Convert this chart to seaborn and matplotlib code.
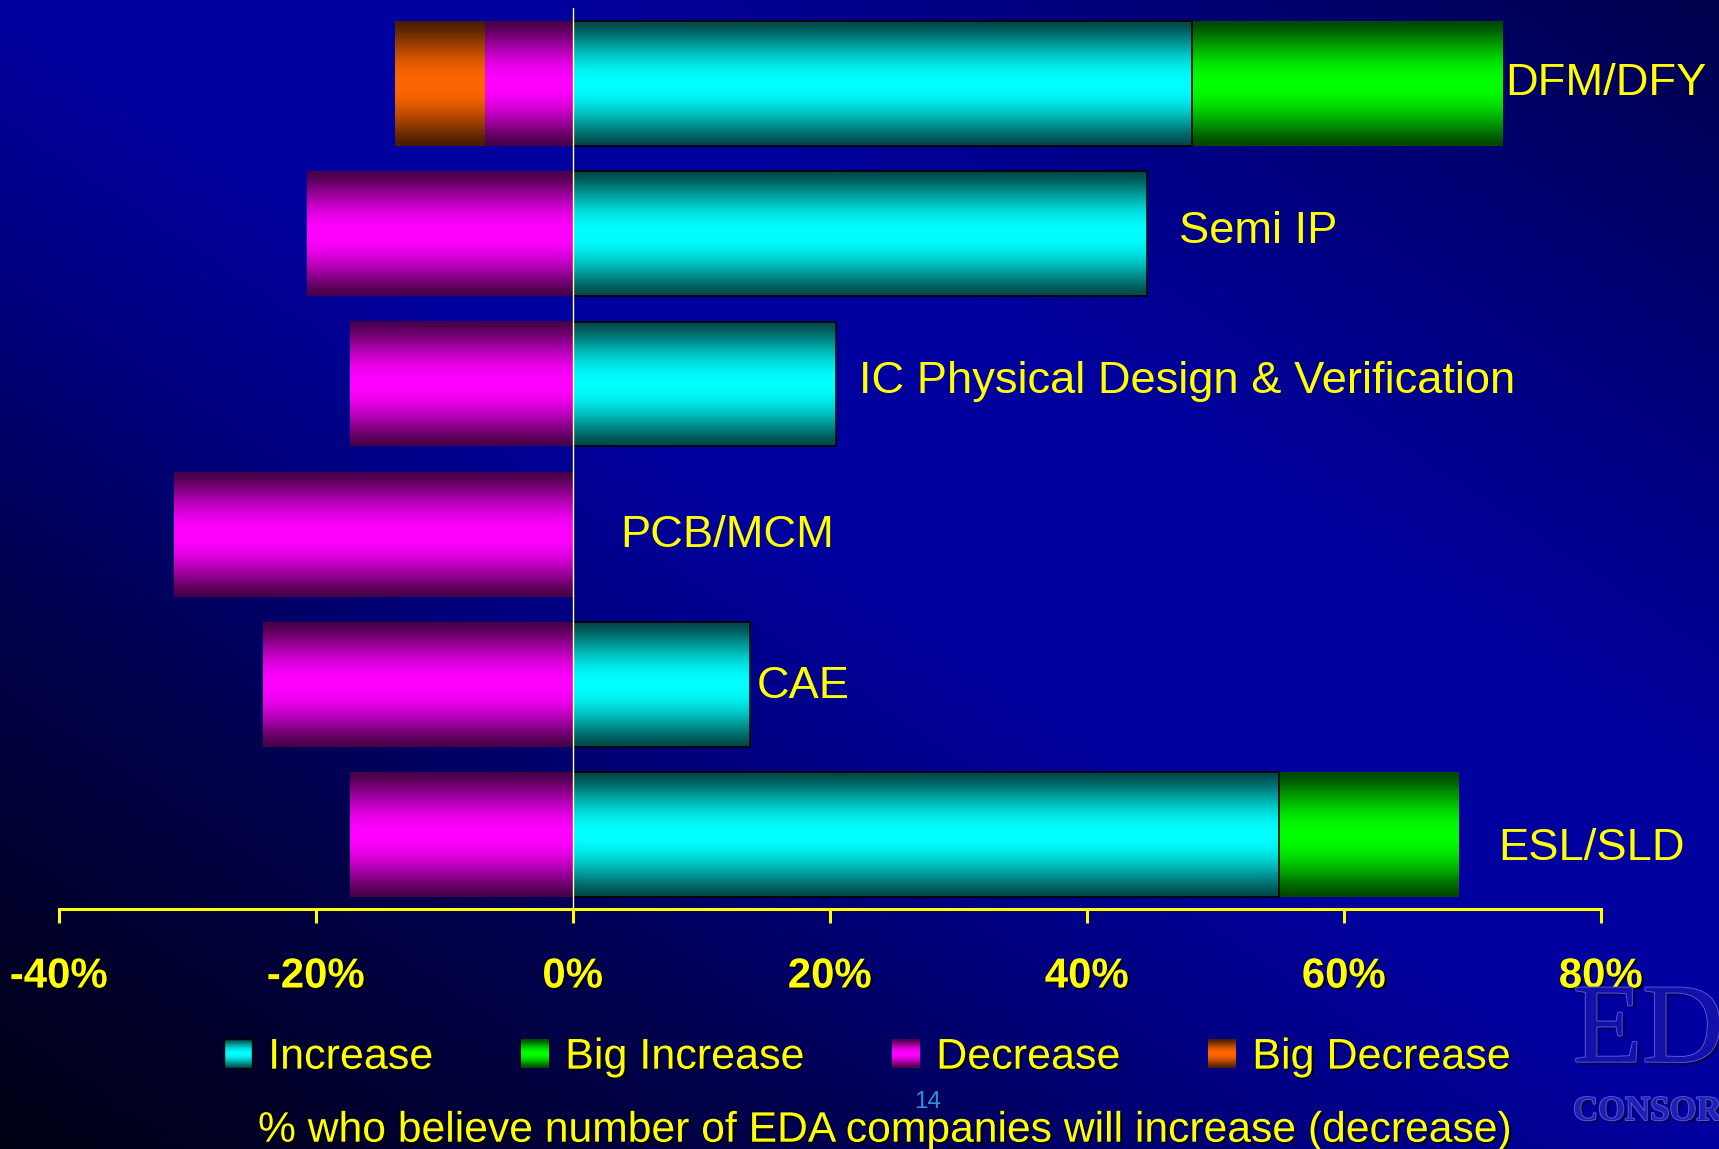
import numpy as np
import pandas as pd
import matplotlib
matplotlib.use("Agg")
import matplotlib.pyplot as plt
import matplotlib.patheffects as pe
from matplotlib.patches import Patch, Rectangle
from matplotlib.legend_handler import HandlerBase
import seaborn as sns

# ---- data (percent of respondents) ----
categories = ["DFM/DFY", "Semi IP", "IC Physical Design & Verification",
              "PCB/MCM", "CAE", "ESL/SLD"]
increase = [48.2, 44.7, 20.5, 0.0, 13.8, 55.0]
big_increase = [24.1, 0.0, 0.0, 0.0, 0.0, 13.9]
decrease = [6.8, 20.7, 17.3, 31.0, 24.1, 17.3]
big_decrease = [7.0, 0.0, 0.0, 0.0, 0.0, 0.0]
series_names = ["Increase", "Big Increase", "Decrease", "Big Decrease"]
x_ticks = [-40, -20, 0, 20, 40, 60, 80]
footer = "% who believe number of EDA companies will increase (decrease)"

# label placement next to each bar (x in %, y baseline in category units)
label_x = [72.6, 47.2, 22.3, 3.7, 14.35, 72.0]
label_dy = [0.078, 0.065, 0.063, 0.087, 0.088, 0.168]

COLORS = {
    "Increase": (0.0, 1.0, 1.0),
    "Big Increase": (0.0, 1.0, 0.0),
    "Decrease": (1.0, 0.0, 1.0),
    "Big Decrease": (1.0, 0.4, 0.0),
}
YELLOW = "#ffff00"


def shade(rgb, t):
    # dark at top/bottom edges, full colour in the middle
    f = 0.28 + 0.72 * np.sin(np.pi * t) ** 1.3
    return np.clip(np.array(rgb) * f, 0, 1)


class GradientHandler(HandlerBase):
    def __init__(self, rgb, edge=None):
        super().__init__()
        self.rgb = rgb
        self.edge = edge

    def create_artists(self, legend, orig_handle, xdescent, ydescent,
                       width, height, fontsize, trans):
        n = 30
        arts = []
        for i in range(n):
            t = (i + 0.5) / n
            arts.append(Rectangle((-xdescent, -ydescent + height * i / n), width,
                                  height / n * 1.08, facecolor=shade(self.rgb, t),
                                  edgecolor="none", transform=trans))
        if self.edge:
            arts.append(Rectangle((-xdescent, -ydescent), width, height,
                                  facecolor="none", edgecolor=self.edge, lw=1.0,
                                  transform=trans))
        return arts


sns.set_style("ticks")
plt.rcParams["font.family"] = ["Liberation Sans", "DejaVu Sans"]

W, H = 1719, 1149
fig = plt.figure(figsize=(W / 100, H / 100), dpi=100)
fig.patch.set_facecolor("#000030")

# ---- background: diagonal blue gradient ----
bg_ax = fig.add_axes([0, 0, 1, 1], zorder=-10)
gx, gy = np.meshgrid(np.linspace(0, 1, 400), np.linspace(0, 1, 300))
u = (gx + gy) / 2  # 0 bottom-left, 1 top-right
b = np.interp(u, [0.0, 0.1, 0.24, 0.38, 0.5, 0.65, 0.8, 1.0],
              [0.08, 0.16, 0.30, 0.50, 0.62, 0.62, 0.50, 0.30])
bg = np.dstack([np.zeros_like(b), np.zeros_like(b), b])
bg_ax.imshow(bg, extent=[0, 1, 0, 1], origin="lower", aspect="auto")
bg_ax.set_axis_off()

ax = fig.add_axes([58.6 / W, 1 - 909.3 / H, (1600.7 - 58.6) / W, (909.3 - 8) / H])
ax.set_facecolor("none")

df = pd.DataFrame({"Category": categories, "Increase": increase,
                   "Big Increase": big_increase, "Decrease": decrease,
                   "Big Decrease": big_decrease})
df["pos_total"] = df["Increase"] + df["Big Increase"]
df["neg_total"] = -(df["Decrease"] + df["Big Decrease"])
df["neg_inner"] = -df["Decrease"]

layers = [("pos_total", "Big Increase"), ("Increase", "Increase"),
          ("neg_total", "Big Decrease"), ("neg_inner", "Decrease")]
patch_groups = []
for col, name in layers:
    n0 = len(ax.patches)
    sns.barplot(data=df, x=col, y="Category", orient="h", color=COLORS[name],
                width=0.83, errorbar=None, ax=ax)
    patch_groups.append((name, ax.patches[n0:]))

# replace flat fills with vertical gradients
z = 2.0
for name, patches in patch_groups:
    for p in patches:
        x0, y0, w, h = p.get_x(), p.get_y(), p.get_width(), p.get_height()
        if abs(w) < 1e-9:
            p.set_visible(False)
            continue
        t = np.linspace(0, 1, 80)
        img = np.array([shade(COLORS[name], tt) for tt in t])[:, None, :]
        ax.imshow(img, extent=(min(x0, x0 + w), max(x0, x0 + w), y0, y0 + h),
                  origin="lower", aspect="auto", zorder=z, interpolation="bilinear")
        p.set_facecolor("none")
        if name == "Increase":
            p.set_edgecolor("black")
            p.set_linewidth(1.2)
        else:
            p.set_linewidth(0)
        p.set_zorder(z + 0.05)
        z += 0.1

ax.axvline(0, color="#ffffa8", lw=1.0, zorder=z + 1)

ax.set_xlim(-40, 80)
ax.set_ylim(5.496, -0.501)
ax.set_xlabel("")
ax.set_ylabel("")
for s in ["top", "right", "left"]:
    ax.spines[s].set_visible(False)
ax.spines["bottom"].set_color(YELLOW)
ax.spines["bottom"].set_linewidth(2.2)
ax.tick_params(axis="y", left=False, labelleft=False)
ax.set_xticks(x_ticks)
ax.set_xticklabels([f"{v}%" for v in x_ticks])
ax.tick_params(axis="x", colors=YELLOW, direction="out", length=10, width=2.2,
               pad=24, labelsize=30.2)
shadow = [pe.withSimplePatchShadow(offset=(1.5, -1.5), shadow_rgbFace="black", alpha=0.7)]
for lbl in ax.get_xticklabels():
    lbl.set_fontweight("bold")
    lbl.set_color(YELLOW)
    lbl.set_path_effects(shadow)

# category labels beside bars
for i, cat in enumerate(categories):
    ax.text(label_x[i], i + label_dy[i], cat, color=YELLOW, fontsize=32.6,
            va="baseline", ha="left", zorder=z + 2)

# legend with gradient swatches
handles = [Patch(label=n) for n in series_names]
hmap = {h: GradientHandler(COLORS[n], edge="black" if n == "Increase" else None)
        for h, n in zip(handles, series_names)}
leg = fig.legend(handles=handles, labels=series_names, handler_map=hmap,
                 loc="center", bbox_to_anchor=(0.5045, 0.0795), ncol=4,
                 frameon=False, fontsize=31.0, handlelength=0.655,
                 handleheight=0.655, handletextpad=0.375, columnspacing=2.03,
                 borderpad=0, borderaxespad=0)
for t in leg.get_texts():
    t.set_color(YELLOW)
    t.set_path_effects(shadow)

# footer and page number
fig.text(258 / W, 1 - 1141.7 / H, footer, color=YELLOW, fontsize=30.7,
         ha="left", va="baseline", path_effects=shadow)
fig.text(927.7 / W, 1 - 1107.7 / H, "14", color="#2f8fd8", fontsize=17.5,
         ha="center", va="baseline")

# faint logo in the corner
logo_fx = [pe.withSimplePatchShadow(offset=(2, -2), shadow_rgbFace="#000040", alpha=0.8),
           pe.Stroke(linewidth=1.4, foreground="#5555e0"), pe.Normal()]
fig.text(1573 / W, 1 - 1061.7 / H, "EDA", family="Liberation Serif", fontsize=81.5,
         color="#1212aa", va="baseline", ha="left", path_effects=logo_fx)
fig.text(1573 / W, 1 - 1120 / H, "CONSORTIUM", family="Liberation Serif",
         fontweight="bold", fontsize=25, color="#2020b0", va="baseline",
         ha="left", path_effects=logo_fx)

fig.savefig("out.png", dpi=100)
